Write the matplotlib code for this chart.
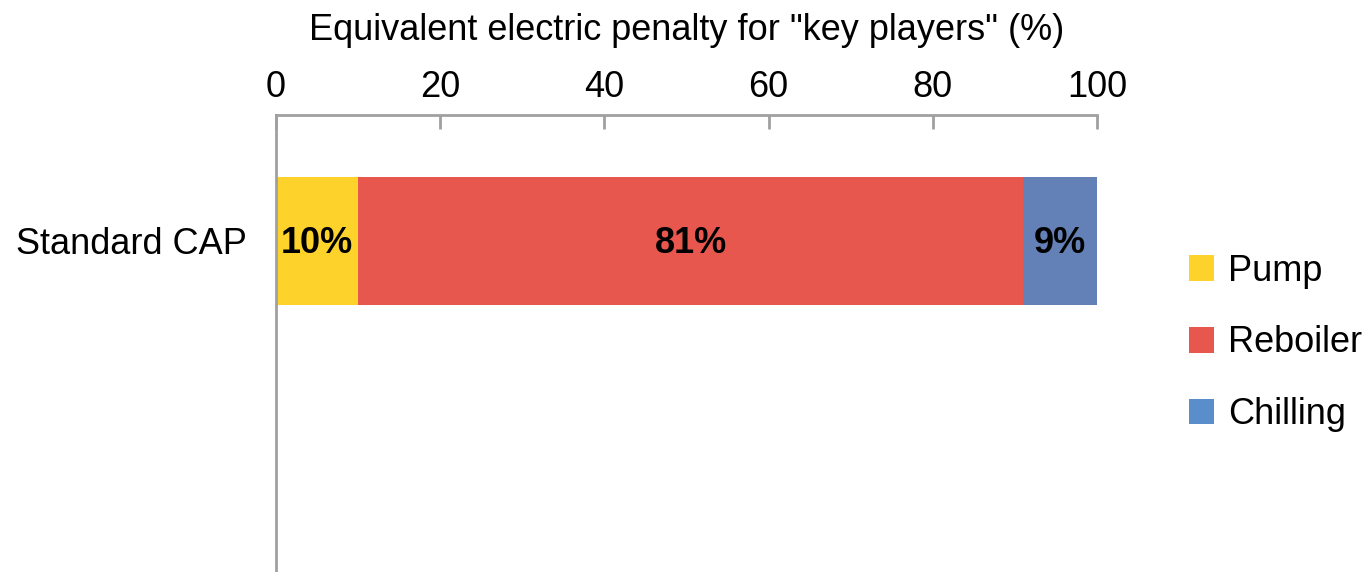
import matplotlib
matplotlib.use("Agg")
import matplotlib.pyplot as plt
from matplotlib.patches import Patch

plt.rcParams['font.family'] = ['Liberation Sans', 'DejaVu Sans']

categories = ["Standard CAP"]
components = ["Pump", "Reboiler", "Chilling"]
shares = [10, 81, 9]
bar_colors = ["#FDD22B", "#E8574E", "#6481B7"]
legend_colors = ["#FDD22B", "#E8574E", "#5A8ECB"]
xticks = [0, 20, 40, 60, 80, 100]
xlabel = 'Equivalent electric penalty for "key players" (%)'

fs = 26
fig = plt.figure(figsize=(13.72, 5.72), dpi=100)
ax = fig.add_axes([276 / 1372, 0.0, (1097 - 276) / 1372, 1 - 115 / 572])

left = 0
for name, val, col in zip(components, shares, bar_colors):
    ax.text(left + val / 2, -0.01, f"{val}%", ha="center", va="center",
            fontsize=fs, fontweight="bold", color="black", zorder=3)
    ax.barh(0, val, left=left, height=0.5, color=col, edgecolor="none")
    left += val

ax.set_xlim(0, 100)
ax.set_ylim(-1.293, 0.492)
ax.set_yticks([0])
ax.set_yticklabels(categories, fontsize=fs)
ax.set_xticks(xticks)
ax.xaxis.tick_top()
ax.xaxis.set_label_position("top")
ax.set_xlabel(xlabel, fontsize=fs, labelpad=22)
ax.tick_params(axis="x", direction="in", length=10, width=2, color="#A0A0A0",
               labelsize=fs, pad=7)
ax.tick_params(axis="y", length=0, pad=21)

for s in ["bottom", "right"]:
    ax.spines[s].set_visible(False)
for s in ["top", "left"]:
    ax.spines[s].set_color("#A0A0A0")
    ax.spines[s].set_linewidth(2)

handles = [Patch(facecolor=c, edgecolor="none") for c in legend_colors]
fig.legend(handles, components, loc="center left",
           bbox_to_anchor=(1189 / 1372, 1 - 343 / 572), frameon=False,
           fontsize=fs, handlelength=0.7, handleheight=0.7,
           handletextpad=0.38, labelspacing=1.02, borderaxespad=0,
           borderpad=0)

fig.savefig("out.png", dpi=100)
